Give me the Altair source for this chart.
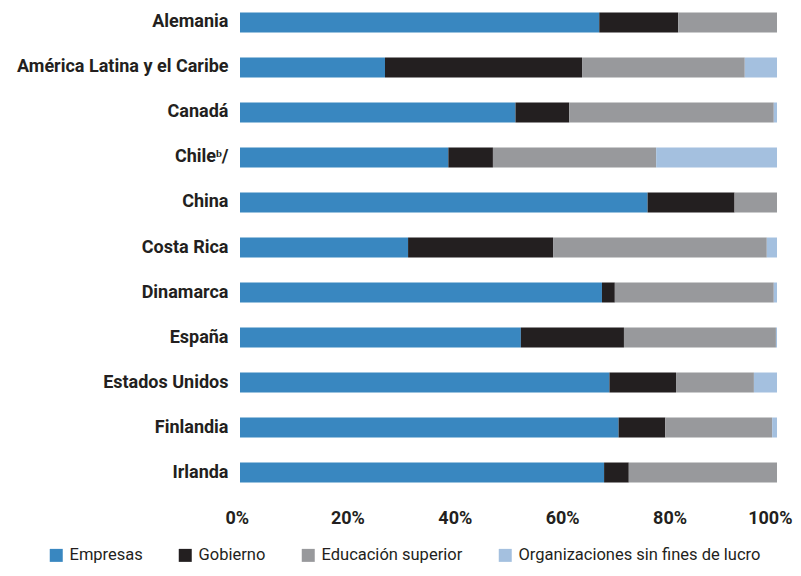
import altair as alt
import pandas as pd

countries = ["Alemania", "América Latina y el Caribe", "Canadá", "Chileᵇ/", "China",
             "Costa Rica", "Dinamarca", "España", "Estados Unidos", "Finlandia", "Irlanda"]
series = ["Empresas", "Gobierno", "Educación superior", "Organizaciones sin fines de lucro"]
empresas = [66.9, 27.0, 51.3, 38.8, 75.9, 31.3, 67.4, 52.3, 68.8, 70.5, 67.8]
gobierno = [14.7, 36.7, 10.0, 8.3, 16.2, 27.0, 2.4, 19.2, 12.4, 8.7, 4.6]
educacion = [18.4, 30.3, 38.1, 30.4, 7.9, 39.8, 29.6, 28.3, 14.5, 19.9, 27.6]
org = [0.0, 6.0, 0.6, 22.5, 0.0, 1.9, 0.6, 0.2, 4.3, 0.9, 0.0]
colors = ["#3987c0", "#231f20", "#98999c", "#a4c0df"]
ticks = [0, 20, 40, 60, 80, 100]

rows = []
for s_i, vals in enumerate([empresas, gobierno, educacion, org]):
    for c, v in zip(countries, vals):
        rows.append({"pais": c, "serie": series[s_i], "orden": s_i, "valor": v})
df = pd.DataFrame(rows)

FONT = "Roboto"

chart = alt.Chart(df).mark_bar(size=20).encode(
    y=alt.Y("pais:N", sort=countries, title=None,
            scale=alt.Scale(paddingInner=0.556, paddingOuter=0.1),
            axis=alt.Axis(domain=False, ticks=False, labelFont=FONT, labelFontSize=18,
                          labelFontWeight="bold", labelColor="#231f20", labelPadding=12,
                          labelLimit=300)),
    x=alt.X("valor:Q", stack="zero", title=None,
            scale=alt.Scale(domain=[0, 100], nice=False),
            axis=alt.Axis(values=ticks, labelExpr="datum.value + '%'", domain=False, ticks=False,
                          grid=False, labelFont=FONT, labelFontSize=18, labelFontWeight="bold",
                          labelColor="#231f20", labelPadding=22, labelFlush=True,
                          labelFlushOffset=15)),
    color=alt.Color("serie:N", sort=series,
                    scale=alt.Scale(domain=series, range=colors),
                    legend=alt.Legend(title=None, orient="none", legendX=-192, legendY=539,
                                      direction="horizontal", columns=4, symbolType="square",
                                      symbolSize=169, symbolStrokeWidth=0, symbolOpacity=1,
                                      labelFont=FONT, labelFontSize=16.5, labelColor="#231f20",
                                      labelOffset=5, columnPadding=34, labelLimit=400)),
    order=alt.Order("orden:Q"),
).properties(
    width=537, height=479,
    autosize=alt.AutoSizeParams(type="none"),
    padding={"left": 232, "top": 0, "right": 16, "bottom": 81},
).configure_view(stroke=None)

chart.save("out.html", embed_options={"renderer": "svg", "actions": False})
